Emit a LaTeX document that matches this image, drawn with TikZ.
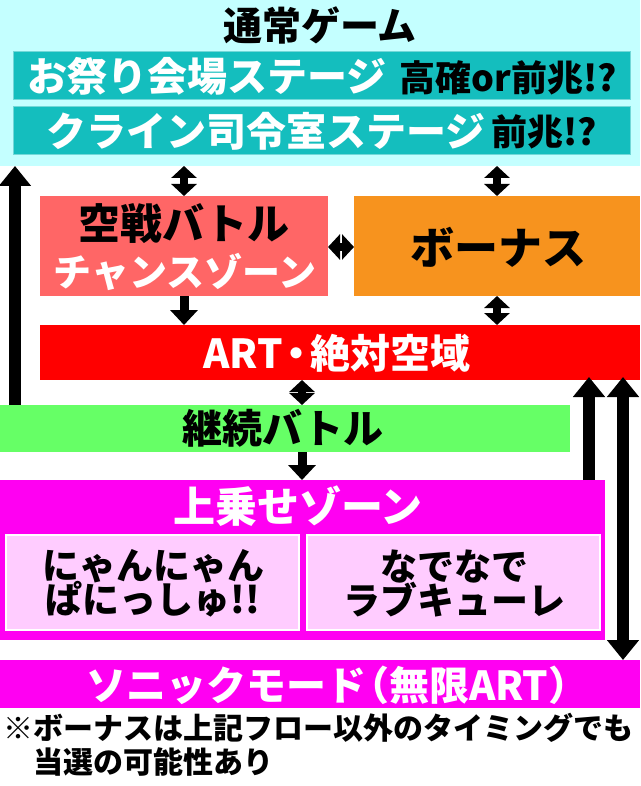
\documentclass[tikz,border=0pt]{standalone}
\usepackage{fontspec}
\newfontfamily\jp{Noto Sans CJK JP}[UprightFont={* Black}]
\usetikzlibrary{arrows.meta}
\definecolor{cyanbg}{HTML}{C4FFFF}
\definecolor{teal1}{HTML}{14BEBE}
\definecolor{salmon}{HTML}{FF6666}
\definecolor{orange1}{HTML}{F7931E}
\definecolor{red1}{HTML}{FF0000}
\definecolor{green1}{HTML}{66FF66}
\definecolor{mag}{HTML}{FF00F2}
\definecolor{pink1}{HTML}{FFCCFF}
\begin{document}
\begin{tikzpicture}[x=1pt,y=-1pt,
  box/.style={inner sep=0pt, outer sep=0pt, anchor=north west},
  txt/.style={inner sep=0pt, outer sep=0pt},
  f/.style={font=\jp\fontsize{#1}{#1}\selectfont},
  dbl/.style={line width=8pt, {Triangle[width=25pt,length=12pt]}-{Triangle[width=25pt,length=12pt]}},
  big/.style={line width=12pt, -{Triangle[width=31pt,length=20pt]}},
  bigdbl/.style={line width=12pt, {Triangle[width=31pt,length=20pt]}-{Triangle[width=31pt,length=20pt]}},
  one/.style={line width=9pt, -{Triangle[width=27pt,length=15pt]}}
]
\useasboundingbox[fill=white] (0,0) rectangle (640,786);
% boxes
\node[box, fill=cyanbg, minimum width=640pt, minimum height=166pt] (cyan) at (0,0) {};
\node[box, fill=teal1, draw=teal1!60!white, line width=1pt, minimum width=617pt, minimum height=48pt] (stage1) at (13,52) {};
\node[box, fill=teal1, draw=teal1!60!white, line width=1pt, minimum width=617pt, minimum height=48pt] (stage2) at (13,107) {};
\node[box, fill=salmon, minimum width=288pt, minimum height=100pt] (chance) at (40,196) {};
\node[box, fill=orange1, minimum width=286pt, minimum height=100pt] (bonus) at (354,196) {};
\node[box, fill=red1, minimum width=600pt, minimum height=55pt] (art) at (40,325) {};
\node[box, fill=green1, minimum width=570pt, minimum height=47pt] (green) at (0,405) {};
\node[box, fill=mag, minimum width=605pt, minimum height=160pt] (uwa) at (0,480) {};
\node[box, fill=pink1, draw=white, line width=2pt, minimum width=293pt, minimum height=95pt] (nyan) at (6,535) {};
\node[box, fill=pink1, draw=white, line width=2pt, minimum width=293pt, minimum height=95pt] (nade) at (307,535) {};
\node[box, fill=mag, minimum width=640pt, minimum height=48pt] (sonic) at (0,660) {};
% texts
\node[txt, f=39] (title) at (320,25) {通常ゲーム};
\node[txt, f=40, white] (s1a) at (207,76) {お祭り会場ステージ};
\node[txt, f=36] (s1b) at (508,78) {高確or前兆!?};
\node[txt, f=40, white] (s2a) at (266,131) {クライン司令室ステージ};
\node[txt, f=36] (s2b) at (544,132) {前兆!?};
\node[txt, f=42] (c1) at (184,224) {空戦バトル};
\node[txt, f=38, white] (c2) at (185,272) {チャンスゾーン};
\node[txt, f=44] (b1) at (498,247) {ボーナス};
\node[txt, f=40, white] (a1) at (337,353) {ART\kern-6pt・\kern-6pt絶対空域};
\node[txt, f=40] (g1) at (283,428) {継続バトル};
\node[txt, f=42, white] (u1) at (298,506) {上乗せゾーン};
\node[txt, f=37, align=center] (n1) at (153,583) {にゃんにゃん\\[-3pt]ぱにっしゅ!!};
\node[txt, f=37, align=center] (n2) at (454,583) {なでなで\\[-3pt]ラブキューレ};
\node[txt, f=40, white, anchor=west] (so) at (86,685) {ソニックモード\kern-17pt（無限ART）};
\node[txt, f=30, anchor=west] (note1) at (3,728) {※ボーナスは上記フロー以外のタイミングでも};
\node[txt, f=30, anchor=west] (note2) at (33,762) {当選の可能性あり};
% connectors
\coordinate (lx) at (15,0);
\coordinate (mx) at (302,0);
\coordinate (r1) at (589,0);
\coordinate (r2) at (623,0);
\draw[dbl] (cyan.south -| chance.north) -- (chance.north);
\draw[dbl] (cyan.south -| bonus.north) -- (bonus.north);
\draw[dbl] (chance.east |- b1) -- (bonus.west |- b1);
\draw[one] (chance.south) -- (art.north -| chance.south);
\draw[dbl] (bonus.south) -- (art.north -| bonus.south);
\draw[dbl] (art.south -| mx) -- (green.north -| mx);
\draw[one] (green.south -| mx) -- (uwa.north -| mx);
\draw[big] (green.north -| lx) -- (cyan.south -| lx);
\draw[big] (uwa.north -| r1) -- ([yshift=3pt]art.south -| r1);
\draw[bigdbl] ([yshift=3pt]art.south -| r2) -- (sonic.north -| r2);
\end{tikzpicture}
\end{document}
